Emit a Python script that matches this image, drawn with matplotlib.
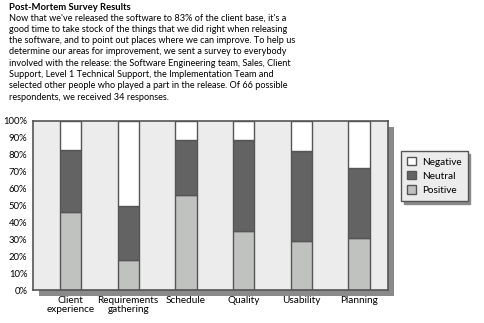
import matplotlib
matplotlib.use("Agg")
import matplotlib.pyplot as plt
from matplotlib.patches import Patch, Rectangle
import numpy as np

plt.rcParams['font.family'] = ['Lato', 'DejaVu Sans']

categories = ['Client\nexperience', 'Requirements\ngathering', 'Schedule', 'Quality', 'Usability', 'Planning']
positive = [46, 18, 56, 35, 29, 31]
neutral = [37, 32, 33, 54, 53, 41]
negative = [17, 50, 11, 11, 18, 28]

title = 'Post-Mortem Survey Results'
body = ("Now that we've released the software to 83% of the client base, it's a\n"
        "good time to take stock of the things that we did right when releasing\n"
        "the software, and to point out places where we can improve. To help us\n"
        "determine our areas for improvement, we sent a survey to everybody\n"
        "involved with the release: the Software Engineering team, Sales, Client\n"
        "Support, Level 1 Technical Support, the Implementation Team and\n"
        "selected other people who played a part in the release. Of 66 possible\n"
        "respondents, we received 34 responses.")

W, H = 484, 323
fig = plt.figure(figsize=(W / 100, H / 100), dpi=100)
fig.patch.set_facecolor('white')

fig.text(9 / W, 1 - 3 / H, title, fontsize=6.8, fontweight='bold', va='top', ha='left')
fig.text(9 / W, 1 - 13.5 / H, body, fontsize=6.6, va='top', ha='left', linespacing=1.33)

left, right, top, bottom = 33, 388, 121, 290
ax = fig.add_axes([left / W, 1 - bottom / H, (right - left) / W, (bottom - top) / H])
# drop shadow behind the plot area
fig.patches.append(Rectangle(((left + 6) / W, 1 - (bottom + 6) / H), (right - left) / W, (bottom - top) / H,
                             transform=fig.transFigure, facecolor='#8a8a8a', edgecolor='none', zorder=0))
ax.set_zorder(1)
ax.set_facecolor('#ececec')

x = np.arange(len(categories))
w = 0.37
ec = '#555555'
ax.bar(x, positive, w, color='#c0c2c0', edgecolor=ec, linewidth=1)
ax.bar(x, neutral, w, bottom=positive, color='#636363', edgecolor=ec, linewidth=1)
ax.bar(x, negative, w, bottom=np.add(positive, neutral), color='white', edgecolor=ec, linewidth=1)

ax.set_xlim(-0.65, 5.5)
ax.set_ylim(0, 100)
ax.set_yticks(range(0, 101, 10))
ax.set_yticklabels([f'{v}%' for v in range(0, 101, 10)], fontsize=6.8)
ax.set_xticks(x)
ax.set_xticklabels(categories, fontsize=7.2, linespacing=1.0)
ax.tick_params(length=0, pad=4)
for s in ax.spines.values():
    s.set_color('#555555')
    s.set_linewidth(1.2)

handles = [Patch(facecolor='white', edgecolor=ec, label='Negative'),
           Patch(facecolor='#636363', edgecolor=ec, label='Neutral'),
           Patch(facecolor='#c0c2c0', edgecolor=ec, label='Positive')]
leg = fig.legend(handles=handles, loc='upper left', bbox_to_anchor=(401 / W, 1 - 151 / H),
                 fontsize=7.2, frameon=True, fancybox=False, handlelength=0.9, handleheight=0.9,
                 handletextpad=0.6, borderpad=0.6, labelspacing=0.45, borderaxespad=0,
                 shadow={'color': '#8a8a8a', 'alpha': 1})
leg.get_frame().set_facecolor('#ececec')
leg.get_frame().set_edgecolor('#555555')
leg.get_frame().set_alpha(1)

fig.savefig('out.png', dpi=100)
